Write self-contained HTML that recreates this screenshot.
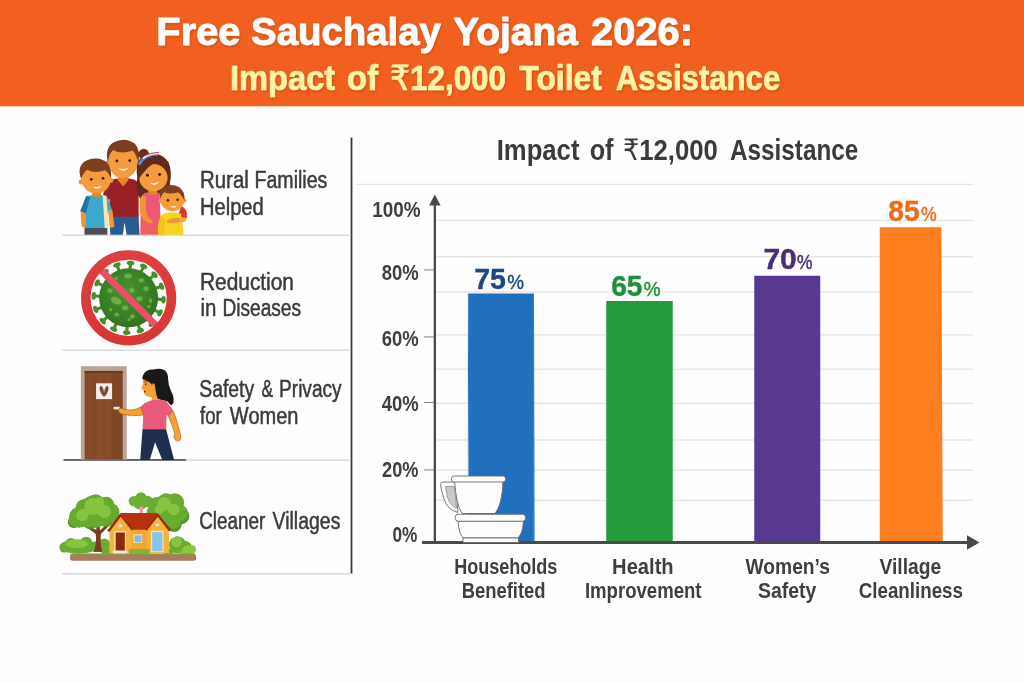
<!DOCTYPE html>
<html lang="en"><head><meta charset="utf-8"><title>Free Sauchalay Yojana 2026</title>
<style>
html,body{margin:0;padding:0;background:#fefefe;}
svg{display:block}
text{font-family:"Liberation Sans","DejaVu Sans",sans-serif;}
</style></head><body>
<svg width="1024" height="683" viewBox="0 0 1024 683">
<defs>
<linearGradient id="hg" x1="0" x2="1" y1="0" y2="0">
<stop offset="0" stop-color="#ee5d1f"/><stop offset="0.5" stop-color="#f0611f"/><stop offset="1" stop-color="#ee5c1e"/>
</linearGradient>
<linearGradient id="dress" x1="0" x2="0" y1="0" y2="1"><stop offset="0" stop-color="#e9547f"/><stop offset="1" stop-color="#f2605c"/></linearGradient>
<linearGradient id="ringg" x1="0" x2="0" y1="0" y2="1"><stop offset="0" stop-color="#dc4040"/><stop offset="1" stop-color="#d63636"/></linearGradient>
<linearGradient id="wood" x1="0" x2="1" y1="0" y2="0"><stop offset="0" stop-color="#84492a"/><stop offset="0.5" stop-color="#8a4e2c"/><stop offset="1" stop-color="#7c4425"/></linearGradient>
<radialGradient id="vir" cx="0.45" cy="0.4" r="0.6"><stop offset="0" stop-color="#4b9230"/><stop offset="1" stop-color="#2f7522"/></radialGradient>
<filter id="ts" x="-5%" y="-20%" width="110%" height="150%"><feDropShadow dx="1" dy="1.5" stdDeviation="0.8" flood-color="#a83a08" flood-opacity="0.45"/></filter>
</defs>
<rect width="1024" height="683" fill="#fefefe"/>
<rect x="0" y="0" width="1024" height="106.3" fill="#f1601e"/>
<g filter="url(#ts)">
<text y="45" font-size="38" font-weight="700" fill="#ffffff" stroke="#ffffff" stroke-width="0.9" stroke-linejoin="round"><tspan x="156.35" textLength="84.08" lengthAdjust="spacingAndGlyphs">Free</tspan> <tspan x="251.14" textLength="189.84" lengthAdjust="spacingAndGlyphs">Sauchalay</tspan> <tspan x="453.25" textLength="124.51" lengthAdjust="spacingAndGlyphs">Yojana</tspan> <tspan x="591.10" textLength="101.88" lengthAdjust="spacingAndGlyphs">2026:</tspan></text>
<text y="90" font-size="34.5" font-weight="700" fill="#fff3a6" stroke="#fff3a6" stroke-width="0.7" stroke-linejoin="round"><tspan x="229.96" textLength="105.21" lengthAdjust="spacingAndGlyphs">Impact</tspan> <tspan x="346.78" textLength="31.47" lengthAdjust="spacingAndGlyphs">of</tspan> <tspan x="390.04" textLength="115.99" lengthAdjust="spacingAndGlyphs"><tspan font-weight="400">₹</tspan>12,000</tspan> <tspan x="519.35" textLength="82.53" lengthAdjust="spacingAndGlyphs">Toilet</tspan> <tspan x="615.85" textLength="164.37" lengthAdjust="spacingAndGlyphs">Assistance</tspan></text>
</g>
<rect x="350.6" y="137.6" width="1.8" height="436" fill="#3a3a3a"/>
<rect x="62" y="234.39999999999998" width="288.5" height="1.6" fill="#dcdcdc"/>
<rect x="62" y="349.4" width="288.5" height="1.6" fill="#dcdcdc"/>
<rect x="62" y="459.4" width="288.5" height="1.6" fill="#dcdcdc"/>
<rect x="62" y="573.0" width="288.5" height="1.6" fill="#dcdcdc"/>
<text y="188.2" font-size="23.5" font-weight="400" fill="#3b3b3b" stroke="#3b3b3b" stroke-width="0.5" stroke-linejoin="round"><tspan x="199.98" textLength="48.83" lengthAdjust="spacingAndGlyphs">Rural</tspan> <tspan x="254.52" textLength="72.86" lengthAdjust="spacingAndGlyphs">Families</tspan></text>
<text x="200.00" y="214.6" font-size="23.5" font-weight="400" fill="#3b3b3b" textLength="63.67" lengthAdjust="spacingAndGlyphs" stroke="#3b3b3b" stroke-width="0.5" stroke-linejoin="round">Helped</text>
<text x="199.96" y="289.7" font-size="23.5" font-weight="400" fill="#3b3b3b" textLength="94.04" lengthAdjust="spacingAndGlyphs" stroke="#3b3b3b" stroke-width="0.5" stroke-linejoin="round">Reduction</text>
<text y="316" font-size="23.5" font-weight="400" fill="#3b3b3b" stroke="#3b3b3b" stroke-width="0.5" stroke-linejoin="round"><tspan x="200.38" textLength="15.90" lengthAdjust="spacingAndGlyphs">in</tspan> <tspan x="222.44" textLength="78.62" lengthAdjust="spacingAndGlyphs">Diseases</tspan></text>
<text y="396.9" font-size="23.5" font-weight="400" fill="#3b3b3b" stroke="#3b3b3b" stroke-width="0.5" stroke-linejoin="round"><tspan x="199.23" textLength="54.92" lengthAdjust="spacingAndGlyphs">Safety</tspan> <tspan x="261.45" textLength="11.66" lengthAdjust="spacingAndGlyphs">&amp;</tspan> <tspan x="279.04" textLength="62.61" lengthAdjust="spacingAndGlyphs">Privacy</tspan></text>
<text y="424" font-size="23.5" font-weight="400" fill="#3b3b3b" stroke="#3b3b3b" stroke-width="0.5" stroke-linejoin="round"><tspan x="200.05" textLength="21.76" lengthAdjust="spacingAndGlyphs">for</tspan> <tspan x="229.85" textLength="68.61" lengthAdjust="spacingAndGlyphs">Women</tspan></text>
<text y="528.7" font-size="23.5" font-weight="400" fill="#3b3b3b" stroke="#3b3b3b" stroke-width="0.5" stroke-linejoin="round"><tspan x="199.25" textLength="66.06" lengthAdjust="spacingAndGlyphs">Cleaner</tspan> <tspan x="272.55" textLength="67.82" lengthAdjust="spacingAndGlyphs">Villages</tspan></text>
<text y="160.2" font-size="29.5" font-weight="700" fill="#3b3b3b"><tspan x="496.73" textLength="82.72" lengthAdjust="spacingAndGlyphs">Impact</tspan> <tspan x="589.65" textLength="23.80" lengthAdjust="spacingAndGlyphs">of</tspan> <tspan x="622.88" textLength="94.98" lengthAdjust="spacingAndGlyphs"><tspan font-weight="400">₹</tspan>12,000</tspan> <tspan x="730.00" textLength="128.33" lengthAdjust="spacingAndGlyphs">Assistance</tspan></text>
<rect x="356.5" y="183.8" width="616.5" height="1.3" fill="#e3e3e3"/>
<rect x="436" y="219.70000000000002" width="537" height="1.4" fill="#e5e5e5"/>
<rect x="436" y="256.0" width="537" height="1.4" fill="#e5e5e5"/>
<rect x="436" y="291.2" width="537" height="1.4" fill="#e5e5e5"/>
<rect x="436" y="334.2" width="537" height="1.4" fill="#e5e5e5"/>
<rect x="436" y="368.5" width="537" height="1.4" fill="#e5e5e5"/>
<rect x="436" y="402.6" width="537" height="1.4" fill="#e5e5e5"/>
<rect x="436" y="439.3" width="537" height="1.4" fill="#e5e5e5"/>
<rect x="436" y="469.5" width="537" height="1.4" fill="#e5e5e5"/>
<rect x="436" y="499.6" width="537" height="1.4" fill="#e5e5e5"/>
<rect x="467.9" y="293.5" width="65.85000000000002" height="248.5" fill="#2170bd"/>
<rect x="606.25" y="301" width="66.5" height="241" fill="#249a3c"/>
<rect x="754.25" y="275.75" width="66.0" height="266.25" fill="#57398f"/>
<rect x="879.75" y="227.25" width="61.5" height="314.75" fill="#fd7f1e"/>
<path d="M941 227.25 L941.25 227.25 L942.8 542 L941 542Z" fill="#fd7f1e"/>
<path d="M533.5 293.5 L534 293.5 L534.6 542 L533.5 542Z" fill="#2170bd"/>
<path d="M467.9 293.5 L468.2 293.5 L468.2 542 L468.9 542Z" fill="#fefefe"/>
<rect x="433.7" y="203" width="2.3" height="340" fill="#4a4a4a"/>
<path d="M434.85 194.5 L440.6 205.5 L429.1 205.5 Z" fill="#4a4a4a"/>
<rect x="422" y="541" width="546" height="3" fill="#4a4a4a"/>
<path d="M979.5 542.5 L967 535.3 L967 549.7 Z" fill="#4a4a4a"/>
<rect x="424" y="269.4" width="10" height="1.1" fill="#8a8a8a"/>
<rect x="424" y="336.4" width="10" height="1.1" fill="#8a8a8a"/>
<rect x="424" y="401.9" width="10" height="1.1" fill="#8a8a8a"/>
<rect x="424" y="469.4" width="10" height="1.1" fill="#8a8a8a"/>
<text x="372.14" y="216.5" font-size="22" font-weight="700" fill="#3f3f3f" textLength="48.34" lengthAdjust="spacingAndGlyphs">100%</text>
<text x="381.80" y="280.3" font-size="22" font-weight="700" fill="#3f3f3f" textLength="36.97" lengthAdjust="spacingAndGlyphs">80%</text>
<text x="381.80" y="346" font-size="22" font-weight="700" fill="#3f3f3f" textLength="36.97" lengthAdjust="spacingAndGlyphs">60%</text>
<text x="381.80" y="410.6" font-size="22" font-weight="700" fill="#3f3f3f" textLength="36.97" lengthAdjust="spacingAndGlyphs">40%</text>
<text x="382.00" y="477" font-size="22" font-weight="700" fill="#3f3f3f" textLength="36.47" lengthAdjust="spacingAndGlyphs">20%</text>
<text x="392.50" y="542" font-size="22" font-weight="700" fill="#3f3f3f" textLength="24.94" lengthAdjust="spacingAndGlyphs">0%</text>
<text y="288.5" fill="#1b4a7e" stroke-linejoin="round"><tspan x="474.22" textLength="31.71" lengthAdjust="spacingAndGlyphs" font-size="29" font-weight="700" stroke="#1b4a7e" stroke-width="0.4">75</tspan><tspan x="507.23" textLength="16.76" lengthAdjust="spacingAndGlyphs" font-size="20.5" font-weight="400" stroke="#1b4a7e" stroke-width="0.45">%</tspan></text>
<text y="295.5" fill="#1f8f38" stroke-linejoin="round"><tspan x="611.23" textLength="31.19" lengthAdjust="spacingAndGlyphs" font-size="29" font-weight="700" stroke="#1f8f38" stroke-width="0.4">65</tspan><tspan x="643.73" textLength="16.76" lengthAdjust="spacingAndGlyphs" font-size="20.5" font-weight="400" stroke="#1f8f38" stroke-width="0.45">%</tspan></text>
<text y="269.25" fill="#4a2d78" stroke-linejoin="round"><tspan x="763.42" textLength="33.30" lengthAdjust="spacingAndGlyphs" font-size="29" font-weight="700" stroke="#4a2d78" stroke-width="0.4">70</tspan><tspan x="796.98" textLength="15.49" lengthAdjust="spacingAndGlyphs" font-size="20.5" font-weight="400" stroke="#4a2d78" stroke-width="0.45">%</tspan></text>
<text y="221.25" fill="#ee6a1c" stroke-linejoin="round"><tspan x="888.20" textLength="31.48" lengthAdjust="spacingAndGlyphs" font-size="29" font-weight="700" stroke="#ee6a1c" stroke-width="0.4">85</tspan><tspan x="920.98" textLength="15.75" lengthAdjust="spacingAndGlyphs" font-size="20.5" font-weight="400" stroke="#ee6a1c" stroke-width="0.45">%</tspan></text>
<text x="454.20" y="573.75" font-size="22.5" font-weight="700" fill="#3f3f3f" textLength="103.21" lengthAdjust="spacingAndGlyphs">Households</text>
<text x="461.68" y="597.5" font-size="22.5" font-weight="700" fill="#3f3f3f" textLength="83.93" lengthAdjust="spacingAndGlyphs">Benefited</text>
<text x="612.10" y="573.5" font-size="22.5" font-weight="700" fill="#3f3f3f" textLength="61.56" lengthAdjust="spacingAndGlyphs">Health</text>
<text x="584.92" y="597.5" font-size="22.5" font-weight="700" fill="#3f3f3f" textLength="116.66" lengthAdjust="spacingAndGlyphs">Improvement</text>
<text x="745.50" y="573.5" font-size="22.5" font-weight="700" fill="#3f3f3f" textLength="84.44" lengthAdjust="spacingAndGlyphs">Women’s</text>
<text x="758.00" y="597.5" font-size="22.5" font-weight="700" fill="#3f3f3f" textLength="58.33" lengthAdjust="spacingAndGlyphs">Safety</text>
<text x="879.50" y="573.5" font-size="22.5" font-weight="700" fill="#3f3f3f" textLength="61.69" lengthAdjust="spacingAndGlyphs">Village</text>
<text x="858.75" y="597.5" font-size="22.5" font-weight="700" fill="#3f3f3f" textLength="104.18" lengthAdjust="spacingAndGlyphs">Cleanliness</text>
<g transform="translate(70,130) scale(0.16108)">
<!-- dad -->
<path d="M245 525 L425 525 L432 650 L352 650 L338 575 L328 650 L250 650 Z" fill="#2a5c90"/>
<path d="M262 308 Q330 292 398 308 Q428 320 426 365 L426 538 L245 538 L245 425 L228 445 L205 398 Q228 335 262 308Z" fill="#9b1f27"/>
<path d="M298 270 L362 270 L362 312 L330 350 L298 312Z" fill="#e5862c"/>
<circle cx="238" cy="208" r="17" fill="#f0943a"/><circle cx="422" cy="208" r="17" fill="#f0943a"/>
<ellipse cx="330" cy="200" rx="90" ry="100" fill="#f49c3d"/>
<path d="M236 205 Q212 110 272 76 Q340 40 402 84 Q442 128 424 205 Q412 152 388 128 Q322 152 268 126 Q242 152 236 205Z" fill="#7c3f1f"/>
<circle cx="291" cy="192" r="9" fill="#3a1c0c"/><circle cx="371" cy="190" r="9" fill="#3a1c0c"/>
<path d="M298 236 Q330 250 364 234 Q332 272 298 236Z" fill="#fff"/>
<!-- boy -->
<rect x="90" y="598" width="142" height="52" fill="#4e4f56"/>
<path d="M100 412 Q165 396 230 412 L263 500 L236 520 L236 608 L92 608 L92 520 L64 505 Z" fill="#3da8cb"/>
<path d="M100 412 L64 505 L98 520 L124 418Z" fill="#2a6fa6"/>
<path d="M202 404 L226 408 L242 608 L216 608 Z" fill="#f6e7b4"/>
<path d="M66 503 L99 518 L98 598 Q84 612 72 596 Z" fill="#f0943a"/>
<path d="M237 502 L263 496 L276 598 Q262 616 248 600Z" fill="#f0943a"/>
<path d="M138 375 L192 375 L192 410 Q165 425 138 410Z" fill="#e5862c"/>
<circle cx="70" cy="322" r="16" fill="#f0943a"/><circle cx="253" cy="312" r="16" fill="#f0943a"/>
<ellipse cx="163" cy="308" rx="90" ry="86" fill="#f49c3d"/>
<path d="M70 305 Q36 216 110 186 Q192 160 240 214 Q262 258 252 300 Q242 266 216 250 Q152 272 106 246 Q80 266 70 305Z" fill="#7c3f1f"/>
<circle cx="132" cy="306" r="8.5" fill="#3a1c0c"/><circle cx="205" cy="300" r="8.5" fill="#3a1c0c"/>
<path d="M140 350 Q170 362 200 344 Q172 382 140 350Z" fill="#fff"/>
<!-- mom -->
<path d="M418 295 Q398 182 470 152 Q562 128 612 200 Q636 262 620 330 Q628 382 600 425 L560 400 L470 400 L438 432 Q402 382 418 295Z" fill="#5f2c1b"/>
<circle cx="458" cy="150" r="33" fill="#6b301d"/>
<path d="M468 390 Q505 384 556 390 L566 650 L436 650 L440 430 Q446 396 468 390Z" fill="url(#dress)"/>
<path d="M486 360 L540 360 L540 395 Q513 410 486 395Z" fill="#e5862c"/>
<ellipse cx="518" cy="296" rx="88" ry="85" fill="#f49c3d"/>
<path d="M429 302 Q424 214 498 178 Q542 164 533 204 Q498 216 468 252 Q444 278 429 302Z" fill="#5f2c1b"/><path d="M531 204 Q528 168 562 178 Q614 200 615 296 Q602 252 576 228 Q552 212 531 204Z" fill="#5f2c1b"/>
<path d="M428 216 Q462 150 548 150" fill="none" stroke="#4a8fd8" stroke-width="18"/>
<path d="M452 176 Q490 146 548 146" fill="none" stroke="#f4f1f1" stroke-width="9"/>
<path d="M470 158 Q505 138 552 140" fill="none" stroke="#e2485a" stroke-width="7"/>
<circle cx="481" cy="281" r="9" fill="#3a1c0c"/><circle cx="556" cy="276" r="9" fill="#3a1c0c"/>
<path d="M495 326 Q523 338 552 322 Q526 358 495 326Z" fill="#fff"/>
<path d="M446 408 Q428 422 434 500 Q440 562 490 578 Q512 584 516 566 Q480 550 472 500 L470 412Z" fill="#f0943a"/>
<!-- child -->
<path d="M690 470 Q732 490 726 540 Q716 572 680 578 L675 520Z" fill="#d9382f"/>
<path d="M575 520 Q632 504 690 520 L706 650 L548 650 Q540 580 575 520Z" fill="#f6d421"/>
<path d="M548 650 Q536 590 566 530 L590 560 L585 650Z" fill="#f0c41c"/>
<circle cx="562" cy="442" r="13" fill="#f0943a"/><circle cx="710" cy="438" r="13" fill="#f0943a"/>
<ellipse cx="636" cy="432" rx="75" ry="72" fill="#f49c3d"/>
<path d="M560 432 Q544 360 610 342 Q682 334 706 390 Q714 416 709 436 Q692 400 670 386 Q620 402 586 386 Q566 400 560 432Z" fill="#7c3f1f"/>
<circle cx="608" cy="436" r="7.5" fill="#3a1c0c"/><circle cx="668" cy="433" r="7.5" fill="#3a1c0c"/>
<path d="M620 470 Q642 480 664 468 Q644 494 620 470Z" fill="#fff"/>
<ellipse cx="650" cy="562" rx="50" ry="16" fill="#f0943a" transform="rotate(-8 650 562)"/>
<ellipse cx="700" cy="556" rx="22" ry="15" fill="#f5a54a"/>
</g>
<g transform="translate(50,235) scale(0.19037)">
<g stroke="#478f2e" stroke-width="17" stroke-linecap="round" fill="#478f2e">
<path d="M420 190L423 147"/><ellipse cx="423" cy="147" rx="20" ry="12" transform="rotate(3 423 147)" stroke="none"/>
<path d="M473 204L492 165"/><ellipse cx="492" cy="165" rx="20" ry="12" transform="rotate(26 492 165)" stroke="none"/>
<path d="M517 236L549 208"/><ellipse cx="549" cy="208" rx="20" ry="12" transform="rotate(48 549 208)" stroke="none"/>
<path d="M545 283L586 269"/><ellipse cx="586" cy="269" rx="20" ry="12" transform="rotate(70 586 269)" stroke="none"/>
<path d="M553 337L596 340"/><ellipse cx="596" cy="340" rx="20" ry="12" transform="rotate(93 596 340)" stroke="none"/>
<path d="M539 390L578 409"/><ellipse cx="578" cy="409" rx="20" ry="12" transform="rotate(116 578 409)" stroke="none"/>
<path d="M507 434L535 466"/><ellipse cx="535" cy="466" rx="20" ry="12" transform="rotate(138 535 466)" stroke="none"/>
<path d="M460 462L474 503"/><ellipse cx="474" cy="503" rx="20" ry="12" transform="rotate(160 474 503)" stroke="none"/>
<path d="M406 470L403 513"/><ellipse cx="403" cy="513" rx="20" ry="12" transform="rotate(183 403 513)" stroke="none"/>
<path d="M353 456L334 495"/><ellipse cx="334" cy="495" rx="20" ry="12" transform="rotate(206 334 495)" stroke="none"/>
<path d="M309 424L277 452"/><ellipse cx="277" cy="452" rx="20" ry="12" transform="rotate(228 277 452)" stroke="none"/>
<path d="M281 377L240 391"/><ellipse cx="240" cy="391" rx="20" ry="12" transform="rotate(250 240 391)" stroke="none"/>
<path d="M273 323L230 320"/><ellipse cx="230" cy="320" rx="20" ry="12" transform="rotate(273 230 320)" stroke="none"/>
<path d="M287 270L248 251"/><ellipse cx="248" cy="251" rx="20" ry="12" transform="rotate(296 248 251)" stroke="none"/>
<path d="M319 226L291 194"/><ellipse cx="291" cy="194" rx="20" ry="12" transform="rotate(318 291 194)" stroke="none"/>
<path d="M366 198L352 157"/><ellipse cx="352" cy="157" rx="20" ry="12" transform="rotate(340 352 157)" stroke="none"/>
</g>
<circle cx="413" cy="330" r="155" fill="url(#vir)"/>
<g fill="#79b547" opacity="0.85">
<ellipse cx="410" cy="215" rx="20" ry="13"/><ellipse cx="480" cy="237" rx="15" ry="12"/><ellipse cx="347" cy="228" rx="10" ry="9"/>
<ellipse cx="315" cy="292" rx="14" ry="13"/><ellipse cx="430" cy="290" rx="13" ry="14"/><ellipse cx="505" cy="282" rx="14" ry="13"/>
<ellipse cx="347" cy="345" rx="30" ry="18" transform="rotate(25 347 345)"/><ellipse cx="470" cy="335" rx="17" ry="13"/><ellipse cx="528" cy="345" rx="9" ry="12"/>
<ellipse cx="395" cy="383" rx="17" ry="13"/><ellipse cx="318" cy="392" rx="9" ry="9"/><ellipse cx="350" cy="418" rx="13" ry="10"/>
<ellipse cx="432" cy="428" rx="13" ry="12"/><ellipse cx="518" cy="375" rx="10" ry="8"/><ellipse cx="415" cy="445" rx="9" ry="8"/>
</g>
<path d="M262 179 L564 481" stroke="#ea4f66" stroke-width="36" fill="none"/>
<circle cx="413" cy="330" r="225" fill="none" stroke="url(#ringg)" stroke-width="50"/>
</g>
<g transform="translate(50,350) scale(0.19037)">
<rect x="72" y="574" width="642" height="7" fill="#2e2e30"/>
<rect x="162" y="85" width="241" height="491" fill="#b9a598"/>
<rect x="182" y="110" width="200" height="466" fill="url(#wood)"/>
<g fill="#6b3a1c" opacity="0.6"><rect x="231" y="112" width="4" height="464"/><rect x="282" y="112" width="4" height="464"/><rect x="332" y="112" width="4" height="464"/></g>
<rect x="182" y="110" width="200" height="10" fill="#6b3a1c"/>
<rect x="242" y="175" width="84" height="83" fill="#f1eee8"/>
<path d="M262 192 Q270 186 276 196 L284 214 L292 196 Q298 186 306 192 Q312 204 302 222 Q296 240 284 246 Q272 240 266 222 Q256 204 262 192Z M276 208 Q284 230 292 208 Q284 222 276 208Z" fill="#6d5036"/>
<rect x="334" y="298" width="32" height="14" rx="3" fill="#e4e4e6"/>
<!-- woman -->
<path d="M489 150 L489 178 L478 203 L491 211 L493 222 L496 232 Q502 242 520 246 L534 248 L536 270 L574 270 L566 224 L555 176 L520 150 Z" fill="#f5a233"/>
<path d="M485.6 152 Q484 126 509 109 Q526 100 545 103 Q570 92 601 105 Q620 118 620 150 Q620 180 636 217 Q652 244 649 274 Q644 288 636 290 Q626 282 618 270 L586 263 Q570 258 566 255 Q558 238 556 222 Q553 200 551 186 Q548 176 543 175 Q538 176 536 184 Q530 174 520 168 Q505 160 485.6 152Z" fill="#1b1819"/>
<ellipse cx="503" cy="180" rx="3.5" ry="5.5" fill="#2a1a10"/>
<path d="M492 166 Q502 164 510 170" stroke="#2a1a10" stroke-width="3" fill="none"/>
<path d="M492 214 L503 216 L498 226Z" fill="#5a1a14"/>
<path d="M498 278 Q548 252 610 268 L648 318 L622 350 L612 340 L610 418 L486 418 L490 340 L474 300Z" fill="#e85b7b"/>
<path d="M476 300 L492 342 Q430 352 376 336 Q356 330 360 314 Q366 300 392 312 Q440 322 476 300Z" fill="#f5a233" stroke="#7a4618" stroke-width="2.5"/>
<path d="M622 348 L648 320 Q672 380 684 440 Q694 462 680 476 Q660 484 652 462 Q648 448 656 440 Q640 392 622 348Z" fill="#f5a233" stroke="#7a4618" stroke-width="2.5"/>
<path d="M486 416 L610 416 L652 578 L590 578 L552 484 L524 578 L474 578Z" fill="#1f2e4e"/>
</g>
<g transform="translate(50,460) scale(0.19037)">
<!-- back trees -->
<g fill="#6fae35">
<circle cx="475" cy="220" r="40"/><circle cx="440" cy="216" r="27"/><circle cx="512" cy="218" r="30"/><circle cx="478" cy="200" r="30"/>
</g>
<rect x="470" y="245" width="18" height="34" fill="#e9a0a8"/>
<g fill="#55962b"><circle cx="652" cy="338" r="40"/><circle cx="690" cy="295" r="42"/><circle cx="545" cy="295" r="38"/></g>
<g fill="#6aab32">
<circle cx="610" cy="262" r="80"/><circle cx="560" cy="240" r="45"/><circle cx="655" cy="225" r="50"/><circle cx="610" cy="215" r="40"/><circle cx="680" cy="278" r="44"/><circle cx="650" cy="322" r="38"/><circle cx="545" cy="278" r="38"/>
</g>
<g fill="#86c441"><circle cx="600" cy="230" r="35"/><circle cx="650" cy="260" r="30"/><circle cx="575" cy="260" r="25"/></g>
<!-- left tree -->
<path d="M230 482 Q248 430 240 388 L196 356 L204 347 L243 368 L246 325 L260 325 L262 370 L296 340 L305 350 L266 390 Q262 430 274 482Z" fill="#7a3b22"/>
<g fill="#55962b"><circle cx="150" cy="306" r="48"/><circle cx="212" cy="322" r="42"/><circle cx="295" cy="312" r="40"/><circle cx="125" cy="326" r="32"/></g>
<g fill="#68a931">
<circle cx="235" cy="270" r="85"/><circle cx="155" cy="300" r="55"/><circle cx="315" cy="275" r="50"/><circle cx="240" cy="225" r="45"/><circle cx="180" cy="250" r="45"/><circle cx="295" cy="235" r="42"/><circle cx="130" cy="318" r="32"/><circle cx="200" cy="312" r="40"/><circle cx="290" cy="302" r="40"/><circle cx="335" cy="300" r="30"/>
</g>
<g fill="#85c340"><circle cx="225" cy="245" r="45"/><circle cx="170" cy="290" r="32"/><circle cx="285" cy="270" r="35"/><circle cx="260" cy="220" r="25"/></g>
<!-- bushes -->
<g fill="#6aab32">
<ellipse cx="150" cy="455" rx="100" ry="38"/><circle cx="110" cy="440" r="30"/><circle cx="190" cy="435" r="32"/><circle cx="75" cy="462" r="25"/><circle cx="285" cy="445" r="32"/><circle cx="240" cy="455" r="28"/>
<circle cx="670" cy="445" r="45"/><circle cx="710" cy="460" r="35"/><rect x="415" y="465" width="110" height="28" rx="6"/><rect x="595" y="465" width="55" height="28" rx="6"/><rect x="270" y="465" width="60" height="28" rx="6"/>
</g>
<g fill="#86c441"><ellipse cx="140" cy="440" rx="60" ry="22"/><circle cx="665" cy="430" r="28"/></g>
<g fill="#8cc63f"><circle cx="725" cy="480" r="32"/><circle cx="745" cy="470" r="22"/><circle cx="705" cy="490" r="20"/></g>
<path d="M230 482 Q248 430 240 388 L266 390 Q262 430 274 482Z" fill="#7a3b22"/>
<!-- ground -->
<rect x="105" y="493" width="663" height="36" rx="14" fill="#a87c5d"/>
<rect x="110" y="490" width="650" height="8" rx="4" fill="#7da838" opacity="0.6"/>
<!-- house -->
<path d="M312 365 L370 285 L430 365 L430 488 L312 488Z" fill="#f6b23f"/>
<path d="M505 365 L565 285 L625 365 L625 488 L505 488Z" fill="#f6b23f"/>
<rect x="428" y="360" width="80" height="128" fill="#eea635"/>
<path d="M370 278 L565 278 L505 366 L430 366Z" fill="#b6320f"/>
<path d="M370 278 L300 372 L312 378 L372 298 L430 372 L436 362Z" fill="#9a2a0c"/>
<path d="M565 278 L500 366 L508 372 L566 298 L626 376 L636 368Z" fill="#9a2a0c"/>
<ellipse cx="370" cy="345" rx="11" ry="8" fill="#cfe3f2"/><ellipse cx="565" cy="340" rx="11" ry="8" fill="#cfe3f2"/>
<rect x="338" y="374" width="60" height="110" fill="#fbe3b0"/><rect x="345" y="381" width="48" height="96" fill="#8c2a12"/>
<rect x="330" y="476" width="76" height="12" fill="#f4efe6"/>
<rect x="438" y="390" width="46" height="46" fill="#fbe3b0"/><rect x="444" y="396" width="36" height="36" fill="#7fbfea"/>
<rect x="530" y="372" width="66" height="112" fill="#fbe3b0"/><rect x="537" y="379" width="53" height="100" fill="#85c4ec"/>
<rect x="415" y="468" width="108" height="22" rx="5" fill="#7cb53a"/>
</g>
<g transform="translate(360,440) scale(0.25)" stroke="#6a6a6a" stroke-width="3.6" stroke-linejoin="round">
<path d="M322 178 Q322 168 336 168 L382 168 L392 290 Q350 280 336 236 Q324 200 322 178Z" fill="#fafafa"/>
<path d="M342 186 L378 186 L386 272 Q360 262 350 230Z" fill="#c9c9c9" stroke="#8a8a8a" stroke-width="3"/>
<path d="M378 166 L572 166 Q568 262 540 294 L408 294 Q386 262 378 166Z" fill="#fdfdfd"/>
<rect x="366" y="144" width="216" height="24" rx="10" fill="#fdfdfd"/>
<path d="M392 324 L654 324 Q650 380 630 392 L414 392 Q396 380 392 324Z" fill="#fdfdfd"/>
<rect x="381" y="297" width="281" height="28" rx="12" fill="#fdfdfd"/>
<path d="M412 392 L634 392 L634 410 L412 410Z" fill="#fdfdfd"/>
</g>

</svg>
</body></html>
